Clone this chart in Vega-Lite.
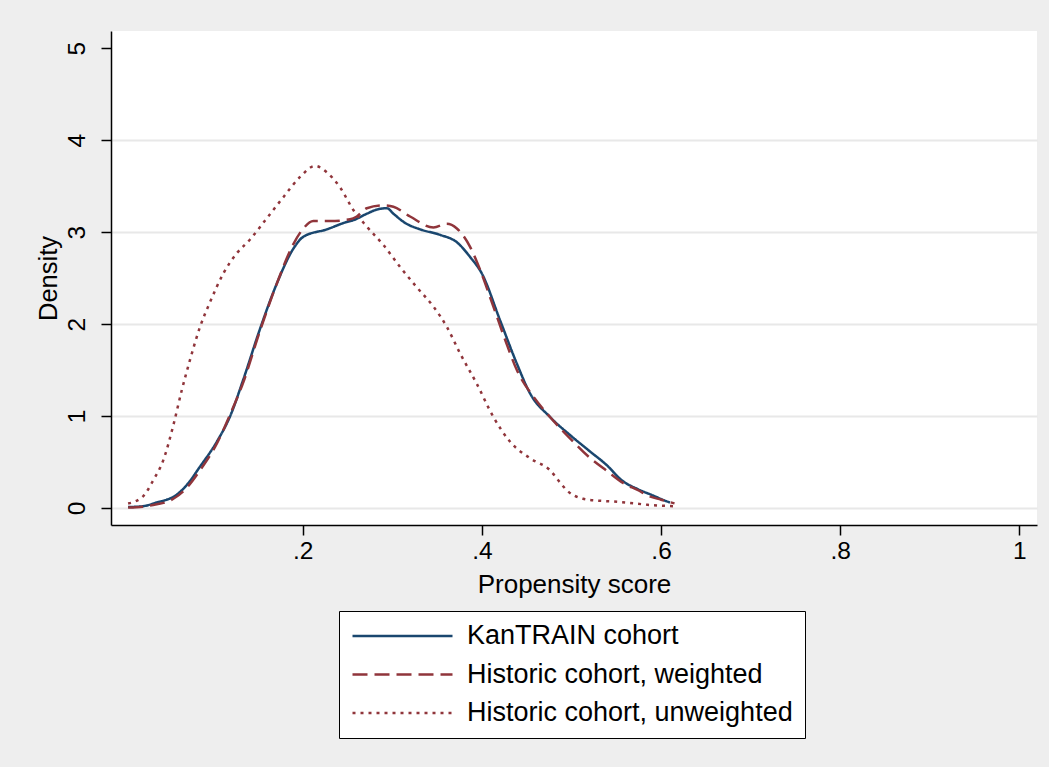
{
  "$schema": "https://vega.github.io/schema/vega-lite/v6.json",
  "width": 926,
  "height": 494,
  "autosize": {"type": "none"},
  "padding": {"left": 111, "top": 31, "right": 12, "bottom": 242},
  "background": "#eeeeee",
  "config": {
    "view": {"fill": "white", "stroke": null},
    "font": "Liberation Sans",
    "axis": {"labelFont": "Liberation Sans", "titleFont": "Liberation Sans", "labelColor": "black", "titleColor": "black", "titleFontWeight": "normal", "domainColor": "black", "domainWidth": 1.5, "tickColor": "black", "tickWidth": 1.5, "tickSize": 10}
  },
  "data": {"values": [
    {"g": "KanTRAIN cohort", "x": 0.005, "y": 0.01},
    {"g": "KanTRAIN cohort", "x": 0.022, "y": 0.02},
    {"g": "KanTRAIN cohort", "x": 0.037, "y": 0.06},
    {"g": "KanTRAIN cohort", "x": 0.048, "y": 0.09},
    {"g": "KanTRAIN cohort", "x": 0.0555, "y": 0.12},
    {"g": "KanTRAIN cohort", "x": 0.0705, "y": 0.25},
    {"g": "KanTRAIN cohort", "x": 0.0853, "y": 0.45},
    {"g": "KanTRAIN cohort", "x": 0.104, "y": 0.72},
    {"g": "KanTRAIN cohort", "x": 0.119, "y": 1.0},
    {"g": "KanTRAIN cohort", "x": 0.1337, "y": 1.40},
    {"g": "KanTRAIN cohort", "x": 0.152, "y": 1.94},
    {"g": "KanTRAIN cohort", "x": 0.171, "y": 2.44},
    {"g": "KanTRAIN cohort", "x": 0.1895, "y": 2.82},
    {"g": "KanTRAIN cohort", "x": 0.2007, "y": 2.95},
    {"g": "KanTRAIN cohort", "x": 0.2268, "y": 3.03},
    {"g": "KanTRAIN cohort", "x": 0.249, "y": 3.11},
    {"g": "KanTRAIN cohort", "x": 0.2565, "y": 3.13},
    {"g": "KanTRAIN cohort", "x": 0.2715, "y": 3.20},
    {"g": "KanTRAIN cohort", "x": 0.2826, "y": 3.245},
    {"g": "KanTRAIN cohort", "x": 0.2938, "y": 3.26},
    {"g": "KanTRAIN cohort", "x": 0.3012, "y": 3.20},
    {"g": "KanTRAIN cohort", "x": 0.3142, "y": 3.10},
    {"g": "KanTRAIN cohort", "x": 0.331, "y": 3.03},
    {"g": "KanTRAIN cohort", "x": 0.3533, "y": 2.97},
    {"g": "KanTRAIN cohort", "x": 0.372, "y": 2.89},
    {"g": "KanTRAIN cohort", "x": 0.3868, "y": 2.73},
    {"g": "KanTRAIN cohort", "x": 0.3999, "y": 2.55},
    {"g": "KanTRAIN cohort", "x": 0.4203, "y": 2.04},
    {"g": "KanTRAIN cohort", "x": 0.439, "y": 1.57},
    {"g": "KanTRAIN cohort", "x": 0.4538, "y": 1.245},
    {"g": "KanTRAIN cohort", "x": 0.476, "y": 0.99},
    {"g": "KanTRAIN cohort", "x": 0.50, "y": 0.78},
    {"g": "KanTRAIN cohort", "x": 0.52, "y": 0.62},
    {"g": "KanTRAIN cohort", "x": 0.54, "y": 0.46},
    {"g": "KanTRAIN cohort", "x": 0.555, "y": 0.31},
    {"g": "KanTRAIN cohort", "x": 0.575, "y": 0.20},
    {"g": "KanTRAIN cohort", "x": 0.59, "y": 0.14},
    {"g": "KanTRAIN cohort", "x": 0.603, "y": 0.085},
    {"g": "KanTRAIN cohort", "x": 0.61, "y": 0.06},
    {"g": "Historic cohort, weighted", "x": 0.005, "y": 0.005},
    {"g": "Historic cohort, weighted", "x": 0.022, "y": 0.015},
    {"g": "Historic cohort, weighted", "x": 0.037, "y": 0.04},
    {"g": "Historic cohort, weighted", "x": 0.048, "y": 0.065},
    {"g": "Historic cohort, weighted", "x": 0.0555, "y": 0.10},
    {"g": "Historic cohort, weighted", "x": 0.0705, "y": 0.22},
    {"g": "Historic cohort, weighted", "x": 0.0853, "y": 0.41},
    {"g": "Historic cohort, weighted", "x": 0.104, "y": 0.70},
    {"g": "Historic cohort, weighted", "x": 0.119, "y": 1.02},
    {"g": "Historic cohort, weighted", "x": 0.1337, "y": 1.37},
    {"g": "Historic cohort, weighted", "x": 0.152, "y": 1.92},
    {"g": "Historic cohort, weighted", "x": 0.171, "y": 2.44},
    {"g": "Historic cohort, weighted", "x": 0.1895, "y": 2.87},
    {"g": "Historic cohort, weighted", "x": 0.2007, "y": 3.04},
    {"g": "Historic cohort, weighted", "x": 0.2118, "y": 3.12},
    {"g": "Historic cohort, weighted", "x": 0.2305, "y": 3.12},
    {"g": "Historic cohort, weighted", "x": 0.2528, "y": 3.14},
    {"g": "Historic cohort, weighted", "x": 0.2603, "y": 3.17},
    {"g": "Historic cohort, weighted", "x": 0.2715, "y": 3.26},
    {"g": "Historic cohort, weighted", "x": 0.29, "y": 3.29},
    {"g": "Historic cohort, weighted", "x": 0.3012, "y": 3.275},
    {"g": "Historic cohort, weighted", "x": 0.3198, "y": 3.17},
    {"g": "Historic cohort, weighted", "x": 0.3459, "y": 3.05},
    {"g": "Historic cohort, weighted", "x": 0.3608, "y": 3.09},
    {"g": "Historic cohort, weighted", "x": 0.372, "y": 3.04},
    {"g": "Historic cohort, weighted", "x": 0.3868, "y": 2.84},
    {"g": "Historic cohort, weighted", "x": 0.398, "y": 2.59},
    {"g": "Historic cohort, weighted", "x": 0.4128, "y": 2.19},
    {"g": "Historic cohort, weighted", "x": 0.4259, "y": 1.83},
    {"g": "Historic cohort, weighted", "x": 0.439, "y": 1.50},
    {"g": "Historic cohort, weighted", "x": 0.4575, "y": 1.21},
    {"g": "Historic cohort, weighted", "x": 0.476, "y": 0.99},
    {"g": "Historic cohort, weighted", "x": 0.50, "y": 0.74},
    {"g": "Historic cohort, weighted", "x": 0.52, "y": 0.55},
    {"g": "Historic cohort, weighted", "x": 0.54, "y": 0.40},
    {"g": "Historic cohort, weighted", "x": 0.558, "y": 0.27},
    {"g": "Historic cohort, weighted", "x": 0.575, "y": 0.19},
    {"g": "Historic cohort, weighted", "x": 0.584, "y": 0.14},
    {"g": "Historic cohort, weighted", "x": 0.60, "y": 0.09},
    {"g": "Historic cohort, weighted", "x": 0.615, "y": 0.05},
    {"g": "Historic cohort, unweighted", "x": 0.005, "y": 0.048},
    {"g": "Historic cohort, unweighted", "x": 0.022, "y": 0.13},
    {"g": "Historic cohort, unweighted", "x": 0.033, "y": 0.30},
    {"g": "Historic cohort, unweighted", "x": 0.0443, "y": 0.52},
    {"g": "Historic cohort, unweighted", "x": 0.0555, "y": 0.90},
    {"g": "Historic cohort, unweighted", "x": 0.0649, "y": 1.28},
    {"g": "Historic cohort, unweighted", "x": 0.0741, "y": 1.61},
    {"g": "Historic cohort, unweighted", "x": 0.0853, "y": 1.97},
    {"g": "Historic cohort, unweighted", "x": 0.0965, "y": 2.24},
    {"g": "Historic cohort, unweighted", "x": 0.1113, "y": 2.55},
    {"g": "Historic cohort, unweighted", "x": 0.1263, "y": 2.77},
    {"g": "Historic cohort, unweighted", "x": 0.1411, "y": 2.92},
    {"g": "Historic cohort, unweighted", "x": 0.1598, "y": 3.15},
    {"g": "Historic cohort, unweighted", "x": 0.1783, "y": 3.38},
    {"g": "Historic cohort, unweighted", "x": 0.197, "y": 3.60},
    {"g": "Historic cohort, unweighted", "x": 0.2137, "y": 3.72},
    {"g": "Historic cohort, unweighted", "x": 0.2268, "y": 3.65},
    {"g": "Historic cohort, unweighted", "x": 0.2414, "y": 3.49},
    {"g": "Historic cohort, unweighted", "x": 0.2565, "y": 3.24},
    {"g": "Historic cohort, unweighted", "x": 0.2715, "y": 3.06},
    {"g": "Historic cohort, unweighted", "x": 0.29, "y": 2.86},
    {"g": "Historic cohort, unweighted", "x": 0.3087, "y": 2.62},
    {"g": "Historic cohort, unweighted", "x": 0.3273, "y": 2.40},
    {"g": "Historic cohort, unweighted", "x": 0.3459, "y": 2.19},
    {"g": "Historic cohort, unweighted", "x": 0.3608, "y": 1.97},
    {"g": "Historic cohort, unweighted", "x": 0.3757, "y": 1.68},
    {"g": "Historic cohort, unweighted", "x": 0.3943, "y": 1.35},
    {"g": "Historic cohort, unweighted", "x": 0.4128, "y": 0.99},
    {"g": "Historic cohort, unweighted", "x": 0.4315, "y": 0.72},
    {"g": "Historic cohort, unweighted", "x": 0.4538, "y": 0.54},
    {"g": "Historic cohort, unweighted", "x": 0.476, "y": 0.41},
    {"g": "Historic cohort, unweighted", "x": 0.487, "y": 0.28},
    {"g": "Historic cohort, unweighted", "x": 0.495, "y": 0.19},
    {"g": "Historic cohort, unweighted", "x": 0.502, "y": 0.14},
    {"g": "Historic cohort, unweighted", "x": 0.513, "y": 0.10},
    {"g": "Historic cohort, unweighted", "x": 0.53, "y": 0.08},
    {"g": "Historic cohort, unweighted", "x": 0.547, "y": 0.07},
    {"g": "Historic cohort, unweighted", "x": 0.565, "y": 0.055},
    {"g": "Historic cohort, unweighted", "x": 0.585, "y": 0.035},
    {"g": "Historic cohort, unweighted", "x": 0.616, "y": 0.018}
  ]},
  "mark": {"type": "line", "strokeWidth": 2.5, "interpolate": "monotone", "strokeCap": "butt"},
  "encoding": {
    "x": {
      "field": "x", "type": "quantitative",
      "scale": {"domain": [-0.0141, 1.0197], "nice": false, "zero": false},
      "axis": {
        "values": [0.2, 0.4, 0.6, 0.8, 1],
        "labelExpr": "datum.value >= 1 ? '1' : '.' + format(datum.value * 10, 'd')",
        "labelFontSize": 24.5, "labelPadding": 4, "labelBaseline": "top",
        "grid": false,
        "title": "Propensity score", "titleFontSize": 26,
        "titleBaseline": "alphabetic", "titleX": 463, "titleY": 67, "titleAnchor": "middle", "titleAlign": "center"
      }
    },
    "y": {
      "field": "y", "type": "quantitative",
      "scale": {"domain": [-0.185, 5.187], "nice": false, "zero": false},
      "axis": {
        "values": [0, 1, 2, 3, 4, 5],
        "labelFontSize": 24.5, "labelAngle": 270, "labelAlign": "center", "labelBaseline": "alphabetic", "labelPadding": 16.5,
        "grid": true, "gridColor": "#e8e8e8", "gridWidth": 2,
        "gridOpacity": {"condition": {"test": "datum.value == 5", "value": 0}, "value": 1},
        "title": "Density", "titleFontSize": 25.5, "titleAngle": 270,
        "titleBaseline": "alphabetic", "titleAlign": "center", "titleX": -55, "titleY": 247
      }
    },
    "color": {
      "field": "g", "type": "nominal",
      "scale": {"domain": ["KanTRAIN cohort", "Historic cohort, weighted", "Historic cohort, unweighted"], "range": ["#1a476f", "#90353b", "#90353b"]},
      "legend": {
        "title": null, "orient": "none", "legendX": 228, "legendY": 580,
        "direction": "vertical",
        "symbolType": "stroke", "symbolSize": 10000, "symbolStrokeWidth": 2.5, "clipHeight": 26,
        "labelFontSize": 27, "labelFont": "Liberation Sans", "labelColor": "black", "labelOffset": 13, "labelLimit": 600,
        "padding": 12, "rowPadding": 11.5,
        "fillColor": "white", "strokeColor": "black"
      }
    },
    "strokeDash": {
      "field": "g", "type": "nominal",
      "scale": {"domain": ["KanTRAIN cohort", "Historic cohort, weighted", "Historic cohort, unweighted"], "range": [[1, 0], [15, 7], [3, 5]]},
      "legend": {
        "title": null, "orient": "none", "legendX": 228, "legendY": 580,
        "direction": "vertical",
        "symbolType": "stroke", "symbolSize": 10000, "symbolStrokeWidth": 2.5, "clipHeight": 26,
        "labelFontSize": 27, "labelFont": "Liberation Sans", "labelColor": "black", "labelOffset": 13, "labelLimit": 600,
        "padding": 12, "rowPadding": 11.5,
        "fillColor": "white", "strokeColor": "black"
      }
    }
  }
}
